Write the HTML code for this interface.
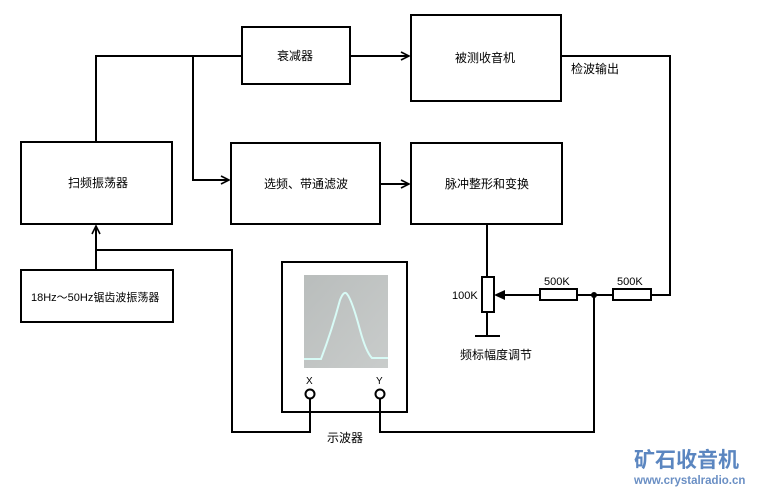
<!DOCTYPE html>
<html><head><meta charset="utf-8"><style>
body{margin:0;background:#fff;width:764px;height:493px;overflow:hidden}
svg text{font-family:"Liberation Sans","Noto Sans CJK SC",sans-serif;font-size:12px;fill:#000}
</style></head><body>
<svg width="764" height="493" viewBox="0 0 764 493" xmlns="http://www.w3.org/2000/svg">
<defs>
<marker id="a" markerWidth="10" markerHeight="10" refX="9" refY="5" orient="auto" markerUnits="userSpaceOnUse">
<path d="M1,1 L9,5 L1,9" fill="none" stroke="#000" stroke-width="1.6"/></marker>
<linearGradient id="g" x1="0" y1="0" x2="1" y2="1"><stop offset="0" stop-color="#b9bdbc"/><stop offset="1" stop-color="#c9cccb"/></linearGradient>
</defs>
<g fill="none" stroke="#000" stroke-width="2">
<rect x="242" y="27" width="108" height="57"/>
<rect x="411" y="15" width="150" height="86"/>
<rect x="21" y="142" width="151" height="82"/>
<rect x="231" y="143" width="149" height="81"/>
<rect x="411" y="143" width="151" height="81"/>
<rect x="21" y="270" width="152" height="52"/>
<rect x="282" y="262" width="125" height="150"/>
<polyline points="96,142 96,56 242,56"/>
<polyline points="193,56 193,180 229,180" marker-end="url(#a)"/>
<line x1="350" y1="56" x2="409" y2="56" marker-end="url(#a)"/>
<line x1="380" y1="184" x2="409" y2="184" marker-end="url(#a)"/>
<polyline points="561,56 670,56 670,295 651,295"/>
<rect x="613" y="289" width="38" height="11"/>
<line x1="577" y1="295" x2="613" y2="295"/>
<rect x="540" y="289" width="37" height="11"/>
<line x1="505" y1="295" x2="540" y2="295"/>
<rect x="482" y="277" width="12" height="35"/>
<line x1="487" y1="224" x2="487" y2="277"/>
<line x1="487" y1="312" x2="487" y2="336"/>
<line x1="475" y1="336" x2="500" y2="336"/>
<polyline points="594,295 594,432 380,432 380,399"/>
<polyline points="310,399 310,432 232,432 232,250 96,250"/>
<line x1="96" y1="270" x2="96" y2="226" marker-end="url(#a)"/>
<circle cx="310" cy="394" r="4.5" fill="#fff"/>
<circle cx="380" cy="394" r="4.5" fill="#fff"/>
</g>
<path d="M494,295 L505,290 L505,300 Z" fill="#000"/>
<circle cx="594" cy="295" r="3" fill="#000"/>
<rect x="304" y="275" width="84" height="93" fill="url(#g)"/>
<path d="M304,359 L321,359 Q332,330 340,300 Q344,290 347,294 Q352,300 360,330 Q366,352 372,358 L388,358" fill="none" stroke="#d8fbf6" stroke-width="2"/>
<text x="277" y="60">衰减器</text>
<text x="455" y="62">被测收音机</text>
<text x="68" y="187">扫频振荡器</text>
<text x="264" y="188">选频、带通滤波</text>
<text x="445" y="188">脉冲整形和变换</text>
<text x="31" y="301" style="font-size:11px">18Hz～50Hz锯齿波振荡器</text>
<text x="571" y="73">检波输出</text>
<text x="452" y="299" style="font-size:11px">100K</text>
<text x="544" y="285" style="font-size:11px">500K</text>
<text x="617" y="285" style="font-size:11px">500K</text>
<text x="460" y="359">频标幅度调节</text>
<text x="306" y="384" style="font-size:10px">X</text>
<text x="376" y="384" style="font-size:10px">Y</text>
<text x="327" y="442">示波器</text>
<text x="634" y="467" style="font-size:21px;font-weight:bold;fill:#5b86c0">矿石收音机</text>
<text x="634" y="484" style="font-size:11.5px;fill:#6a8fc4;font-weight:bold">www.crystalradio.cn</text>
</svg>
</body></html>
